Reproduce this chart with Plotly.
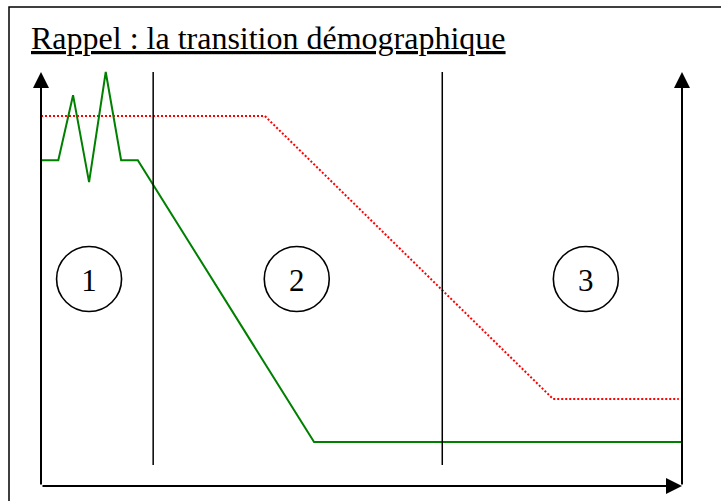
import plotly.graph_objects as go

# Schéma : la transition démographique (unités arbitraires, axes 0-100)
temps_natalite = [0, 34.9, 79.9, 99.5]
natalite = [89.4, 89.4, 21.0, 21.0]

temps_mortalite = [0, 2.7, 5.0, 7.5, 10.1, 12.5, 15.1, 42.6, 100]
mortalite = [78.7, 78.7, 94.4, 73.4, 100, 78.7, 78.7, 10.6, 10.6]

limites_phases = [17.5, 62.6]
phases_x = [7.5, 39.9, 85.0]
phases_y = [50, 50, 50]
phases_labels = ['1', '2', '3']

titre = 'Rappel : la transition démographique'
police = 'Liberation Serif, Times New Roman, serif'

fig = go.Figure()

# taux de natalité (pointillés rouges)
fig.add_trace(go.Scatter(x=temps_natalite, y=natalite, mode='lines',
                         line=dict(color='red', width=2, dash='2px,2px'),
                         cliponaxis=False, hoverinfo='skip'))

# taux de mortalité (vert)
fig.add_trace(go.Scatter(x=temps_mortalite, y=mortalite, mode='lines',
                         line=dict(color='#008000', width=2),
                         cliponaxis=False, hoverinfo='skip'))

# séparations entre les phases
sep_x, sep_y = [], []
for b in limites_phases:
    sep_x += [b, b, None]
    sep_y += [5.1, 100, None]
fig.add_trace(go.Scatter(x=sep_x, y=sep_y, mode='lines',
                         line=dict(color='black', width=1.5),
                         cliponaxis=False, hoverinfo='skip'))

# cercles des phases
fig.add_trace(go.Scatter(x=phases_x, y=phases_y, mode='markers',
                         marker=dict(symbol='circle-open', size=65,
                                     color='black', line=dict(width=1.6)),
                         cliponaxis=False, hoverinfo='skip'))
# numéros des phases (légèrement sous le centre, comme l'original)
fig.add_trace(go.Scatter(x=phases_x, y=[v - 1 for v in phases_y], mode='text',
                         text=phases_labels, textposition='middle center',
                         textfont=dict(family=police, size=31, color='black'),
                         cliponaxis=False, hoverinfo='skip'))

# axes fléchés
fleches = [(0, 100, 0, 0), (100, 100, 100, 0), (100, 0, 0, 0)]
annotations = []
for x, y, ax, ay in fleches:
    annotations.append(dict(x=x, y=y, ax=ax, ay=ay, xref='x', yref='y',
                            axref='x', ayref='y', text='', showarrow=True,
                            arrowhead=2, arrowsize=1.6, arrowwidth=2,
                            arrowcolor='black'))

annotations.append(dict(x=29 / 721, y=1 - 38 / 501, xref='paper', yref='paper',
                        xanchor='left', yanchor='middle', showarrow=False,
                        text='<u>' + titre + '</u>',
                        font=dict(family=police, size=32, color='black')))

fig.update_layout(
    width=721, height=501,
    margin=dict(l=0, r=0, t=0, b=0),
    paper_bgcolor='white', plot_bgcolor='white',
    showlegend=False,
    xaxis=dict(range=[-41 / 6.41, 680 / 6.41], visible=False, fixedrange=True),
    yaxis=dict(range=[-15 / 4.14, 486 / 4.14], visible=False, fixedrange=True),
    annotations=annotations,
    # cadre
    shapes=[dict(type='rect', xref='paper', yref='paper',
                 x0=9 / 721, x1=1.2, y0=-0.2, y1=1 - 7 / 501,
                 line=dict(color='black', width=1.5))],
)

fig.write_html('out.html', config={'displayModeBar': False},
               post_script="document.body.style.margin='0';")
